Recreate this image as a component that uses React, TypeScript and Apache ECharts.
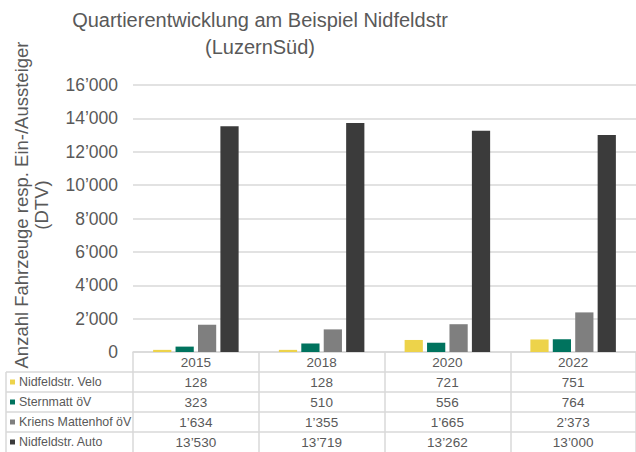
import React, { useEffect, useRef } from "react";
import * as echarts from "echarts";

const years = ["2015", "2018", "2020", "2022"];
const seriesNames = ["Nidfeldstr. Velo", "Sternmatt öV", "Kriens Mattenhof öV", "Nidfeldstr. Auto"];
const veloValues = [128, 128, 721, 751];
const sternmattValues = [323, 510, 556, 764];
const kriensValues = [1634, 1355, 1665, 2373];
const autoValues = [13530, 13719, 13262, 13000];
const seriesColors = ["#EDD34A", "#00735E", "#7F7F7F", "#3B3B3B"];

const fmt = (v: number) => String(Math.round(v)).replace(/\B(?=(\d{3})+(?!\d))/g, "\u2019");

const FONT = "'Liberation Sans', Arial, sans-serif";
const TXT = "#595959";
const LINE = "#D9D9D9";

export default function App() {
  const ref = useRef<HTMLDivElement>(null);
  useEffect(() => {
    if (!ref.current) return;
    const chart = echarts.init(ref.current, undefined, { renderer: "svg" });
    const allValues = [veloValues, sternmattValues, kriensValues, autoValues];
    const gridLeft = 133;
    const gridTop = 85;
    const gridH = 267;
    const rowH = 20;
    const base = gridTop + gridH;

    const axisCommon = {
      type: "category" as const,
      gridIndex: 0,
      position: "bottom" as const,
      axisLine: { show: true, lineStyle: { color: LINE, width: 1.5 } },
      axisTick: { show: true, interval: 0, length: rowH, lineStyle: { color: LINE, width: 1.5 } },
      axisLabel: { color: TXT, fontSize: 13.5, fontFamily: FONT, margin: 3, interval: 0 },
    };

    const xAxes: any[] = [{ ...axisCommon, data: years }];
    allValues.forEach((vals, i) => {
      xAxes.push({ ...axisCommon, offset: rowH * (i + 1), data: vals.map(fmt) });
    });

    const graphic: any[] = [];
    for (let i = 1; i <= 4; i++) {
      graphic.push({
        type: "line",
        shape: { x1: 6, y1: base + rowH * i, x2: gridLeft, y2: base + rowH * i },
        style: { stroke: LINE, lineWidth: 1.5 },
      });
    }
    graphic.push({
      type: "line",
      shape: { x1: 6, y1: base + rowH, x2: 6, y2: base + rowH * 5 },
      style: { stroke: LINE, lineWidth: 1.5 },
    });
    seriesNames.forEach((name, i) => {
      const cy = base + rowH * (i + 1) + rowH / 2;
      graphic.push({
        type: "rect",
        shape: { x: 10, y: cy - 2.5, width: 5, height: 5 },
        style: { fill: seriesColors[i] },
      });
      graphic.push({
        type: "text",
        x: 19,
        y: cy,
        style: { text: name, fill: TXT, font: `12.4px ${FONT}`, align: "left", verticalAlign: "middle" },
      });
    });
    graphic.push({
      type: "text",
      x: 31,
      y: 205,
      rotation: Math.PI / 2,
      style: {
        text: "Anzahl Fahrzeuge resp. Ein-/Aussteiger\n(DTV)",
        fill: TXT,
        font: `18.5px ${FONT}`,
        lineHeight: 20,
        align: "center",
        verticalAlign: "middle",
      },
    });
    graphic.push({
      type: "text",
      x: 260,
      y: 33,
      style: {
        text: "Quartierentwicklung am Beispiel Nidfeldstr\n(LuzernSüd)",
        fill: TXT,
        font: `20px ${FONT}`,
        lineHeight: 27,
        align: "center",
        verticalAlign: "middle",
      },
    });

    chart.setOption({
      animation: false,
      backgroundColor: "#fff",
      grid: { left: gridLeft, top: gridTop, width: 510, height: gridH, containLabel: false },
      xAxis: xAxes,
      yAxis: {
        type: "value",
        min: 0,
        max: 16000,
        interval: 2000,
        axisLine: { show: false },
        axisTick: { show: false },
        axisLabel: { color: TXT, fontSize: 17.5, fontFamily: FONT, margin: 15, formatter: (v: number) => fmt(v) },
        splitLine: { lineStyle: { color: LINE, width: 1.5 } },
      },
      graphic,
      series: allValues.map((vals, i) => ({
        name: seriesNames[i],
        type: "bar",
        data: vals,
        itemStyle: { color: seriesColors[i] },
        barGap: "23%",
        barCategoryGap: "32%",
      })),
    });
    return () => chart.dispose();
  }, []);
  return <div ref={ref} style={{ width: 636, height: 452, position: "absolute", left: 0, top: 0 }} />;
}
